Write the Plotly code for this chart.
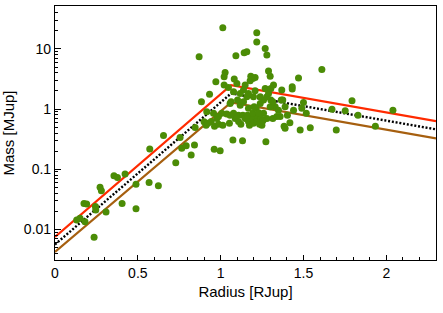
import plotly.graph_objects as go

radius = [0.131, 0.151, 0.175, 0.191, 0.181, 0.236, 0.246, 0.244, 0.272, 0.280,
          0.308, 0.356, 0.377, 0.423, 0.405, 0.489, 0.489, 0.568, 0.572, 0.624,
          0.655, 0.729, 0.755, 0.765, 0.792, 0.822, 0.842, 0.846, 0.870, 0.884,
          0.900, 0.912, 0.916, 0.933, 0.961, 0.997, 0.963, 0.971, 0.977, 0.987,
          1.013, 1.013, 1.021, 1.027, 1.021, 1.007, 1.037, 1.053, 1.047, 1.063,
          1.074, 1.082, 1.078, 1.092, 1.098, 1.102, 1.108, 1.118, 1.122, 1.132,
          1.142, 1.158, 1.148, 1.158, 1.168, 1.174, 1.178, 1.182, 1.194, 1.202,
          1.208, 1.214, 1.218, 1.218, 1.208, 1.229, 1.239, 1.249, 1.259, 1.269,
          1.279, 1.273, 1.269, 1.279, 1.289, 1.299, 1.303, 1.315, 1.319, 1.329,
          1.339, 1.359, 1.369, 1.375, 1.389, 1.383, 1.389, 1.403, 1.418, 1.432,
          1.432, 1.440, 1.470, 1.480, 1.490, 1.500, 1.517, 1.541, 1.611, 1.672,
          1.698, 1.752, 1.793, 1.829, 1.934, 2.040,
          1.134, 1.148, 1.168, 1.182, 1.198, 1.218, 1.235, 1.243, 1.255, 1.078,
          1.088, 1.057, 1.108, 0.957, 0.987, 1.057, 1.118, 1.138, 1.162, 1.194,
          1.214, 1.229, 1.259, 1.279, 1.299, 1.349, 1.366, 1.289, 1.303, 1.138,
          1.168, 1.198, 1.239, 1.315, 0.923, 0.943]
mass = [0.0143, 0.0153, 0.027, 0.0264, 0.0134, 0.0074, 0.021, 0.024, 0.050, 0.044,
        0.0195, 0.078, 0.073, 0.083, 0.027, 0.022, 0.056, 0.060, 0.217, 0.053,
        0.365, 0.128, 0.338, 0.222, 0.246, 0.172, 0.252, 0.496, 7.4, 1.32,
        0.616, 0.54, 0.90, 1.77, 0.214, 0.203, 0.52, 2.85, 0.70, 0.56,
        22.4, 0.54, 3.44, 4.06, 2.51, 0.85, 0.83, 0.58, 2.29, 1.32,
        0.305, 3.15, 1.94, 7.7, 2.67, 1.41, 0.79, 1.82, 0.56, 0.298,
        8.6, 9.0, 2.51, 1.60, 1.03, 0.54, 2.96, 3.53, 3.23, 1.09,
        2.02, 0.75, 18.5, 13.1, 3.36, 0.62, 1.24, 0.54, 0.85, 10.2,
        7.9, 0.287, 2.20, 0.70, 4.3, 3.53, 1.41, 0.70, 2.51, 1.09,
        0.75, 0.75, 2.07, 1.41, 1.09, 0.52, 0.48, 0.79, 0.59, 2.35,
        2.15, 0.96, 3.3, 0.45, 1.03, 1.29, 0.85, 0.49, 4.56, 0.99,
        0.45, 0.94, 1.37, 0.79, 0.52, 0.96,
        0.79, 0.70, 0.62, 0.70, 0.58, 0.62, 0.56, 0.70, 0.64, 0.85,
        0.70, 0.79, 0.62, 0.85, 0.75, 1.24, 1.16, 1.32, 0.79, 0.85,
        1.03, 0.87, 1.41, 1.60, 1.09, 0.96, 1.41, 1.82, 2.20, 2.07,
        1.82, 1.60, 1.60, 1.32, 0.58, 0.62]

line_x = [0.0, 1.063, 2.3]
upper_mass = [0.0075, 2.5, 0.63]
mid_mass = [0.0056, 1.82, 0.46]
lower_mass = [0.0042, 1.29, 0.326]

y_major = [0.01, 0.1, 1, 10]
y_major_text = ["0.01", "0.1", "1", "10"]
y_minor = [m * d for d in [0.001, 0.01, 0.1, 1, 10] for m in range(2, 10)]

fig = go.Figure()
fig.add_trace(go.Scatter(x=line_x, y=upper_mass, mode="lines",
                         line=dict(color="#ff2a00", width=2.2), hoverinfo="skip"))
fig.add_trace(go.Scatter(x=line_x, y=mid_mass, mode="lines",
                         line=dict(color="black", width=2.4, dash="2px,1.8px"), hoverinfo="skip"))
fig.add_trace(go.Scatter(x=line_x, y=lower_mass, mode="lines",
                         line=dict(color="#a65f0f", width=2.2), hoverinfo="skip"))
fig.add_trace(go.Scatter(x=radius, y=mass, mode="markers",
                         marker=dict(color="#4b8c06", size=7, line=dict(width=0))))
fig.add_trace(go.Scatter(x=[None], y=[None], yaxis="y2", showlegend=False))

yr = [-2.51, 1.714]
fig.update_layout(
    width=443, height=313,
    margin=dict(l=55, r=7, t=6, b=53),
    plot_bgcolor="white", paper_bgcolor="white",
    showlegend=False,
    font=dict(family="Liberation Sans, Arial, sans-serif", size=14, color="black"),
    xaxis=dict(range=[0, 2.3], dtick=0.5, tick0=0, ticks="inside", ticklen=5,
               tickcolor="black", showline=True, linecolor="black", linewidth=1.2,
               mirror=True, showgrid=False, zeroline=False, automargin=False,
               minor=dict(dtick=0.1, ticks="inside", ticklen=3, tickcolor="black", showgrid=False),
               title=dict(text="Radius [RJup]", font=dict(size=15), standoff=6)),
    yaxis=dict(type="log", range=yr, tickvals=y_major, ticktext=y_major_text,
               ticks="inside", ticklen=6, tickcolor="black", showline=True,
               linecolor="black", linewidth=1.2, mirror=True, showgrid=False,
               zeroline=False, automargin=False,
               title=dict(text="Mass [MJup]", font=dict(size=15), standoff=8)),
    yaxis2=dict(type="log", range=yr, overlaying="y", side="left",
                tickvals=y_minor, ticks="inside", ticklen=3, tickcolor="black",
                showticklabels=False, showline=False, showgrid=False, zeroline=False,
                automargin=False),
)
fig.write_html("out.html", config={"displayModeBar": False},
               post_script="document.body.style.margin='0';document.body.style.overflow='hidden';")
